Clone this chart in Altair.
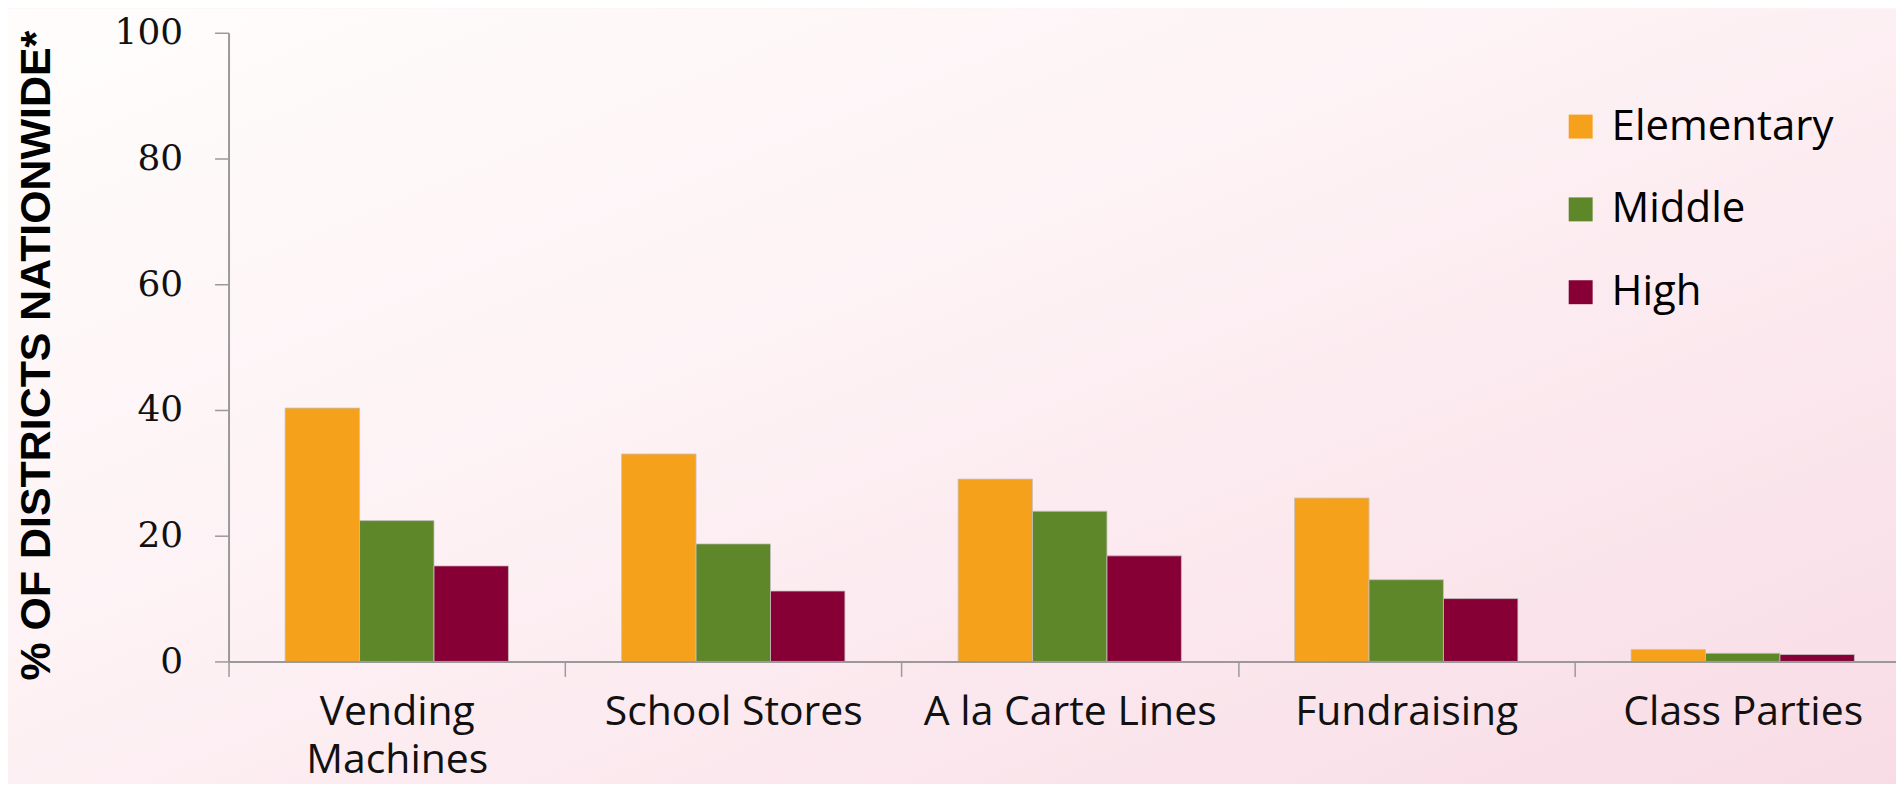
import altair as alt
import pandas as pd

categories = ["Vending Machines", "School Stores", "A la Carte Lines", "Fundraising", "Class Parties"]
levels = ["Elementary", "Middle", "High"]
elementary = [40.3, 33.0, 29.0, 26.0, 1.9]
middle = [22.4, 18.7, 23.9, 13.0, 1.3]
high = [15.2, 11.2, 16.8, 10.0, 1.1]
level_colors = ["#F5A11B", "#5E872A", "#860035"]
y_ticks = [0, 20, 40, 60, 80, 100]

rows = []
for i, c in enumerate(categories):
    for lvl, vals in zip(levels, [elementary, middle, high]):
        rows.append({"category": c, "level": lvl, "value": vals[i]})
df = pd.DataFrame(rows)

W, H = 1671, 630
PL, PT = 221, 24

bg = alt.Chart(pd.DataFrame({"k": [0]})).mark_rect(
    color={
        "gradient": "linear",
        "x1": 0, "y1": 0, "x2": 1, "y2": 1,
        "stops": [
            {"offset": 0, "color": "#fffdfc"},
            {"offset": 0.45, "color": "#fdf1f4"},
            {"offset": 1, "color": "#f8dbe5"},
        ],
    }
).encode(
    x=alt.value(-PL), x2=alt.value(W + 20),
    y=alt.value(-PT), y2=alt.value(H + 140),
)

bars = alt.Chart(df).mark_bar(stroke="#c8c0c2", strokeWidth=0.8).encode(
    x=alt.X(
        "category:N", sort=categories,
        scale=alt.Scale(paddingInner=0, paddingOuter=0, range=[0, 1686]),
        axis=alt.Axis(
            title=None, labelAngle=0, tickBand="extent", zindex=1,
            labelFont="Open Sans", labelFontSize=41, labelColor="#111111",
            labelPadding=16, labelLineHeight=48, labelBaseline="top",
            tickSize=15, tickColor="#9a9a9a", tickWidth=1.5,
            domainColor="#9a9a9a", domainWidth=2, labelLimit=400,
            labelExpr="datum.label == 'Vending Machines' ? ['Vending', 'Machines'] : datum.label",
        ),
    ),
    xOffset=alt.XOffset("level:N", sort=levels, scale=alt.Scale(paddingOuter=0.76, paddingInner=0)),
    y=alt.Y(
        "value:Q",
        scale=alt.Scale(domain=[0, 100], nice=False),
        axis=alt.Axis(
            title="% OF DISTRICTS NATIONWIDE*", values=y_ticks, grid=False, zindex=1,
            labelFont="DejaVu Serif", labelFontSize=36, labelColor="#111111",
            labelPadding=32, tickSize=14, tickColor="#9a9a9a", tickWidth=1.5,
            domainColor="#9a9a9a", domainWidth=2,
            titleFont="Liberation Sans", titleFontWeight="bold", titleFontSize=43,
            titleColor="#000000", titleAngle=270, titleAlign="center",
            titleBaseline="middle", titleX=-192, titleY=323,
        ),
    ),
    color=alt.Color(
        "level:N", sort=levels,
        scale=alt.Scale(domain=levels, range=level_colors),
        legend=alt.Legend(
            title=None, orient="none", legendX=1334, legendY=73,
            symbolType="square", symbolSize=576, symbolStrokeWidth=0,
            symbolOpacity=1, labelFont="Open Sans", labelFontSize=42,
            labelColor="#000000", labelOffset=10, rowPadding=41, labelLimit=400,
        ),
    ),
)

chart = alt.layer(bg, bars).properties(
    width=W, height=H,
    autosize=alt.AutoSizeParams(type="none"),
    padding={"left": PL, "top": PT, "right": 0, "bottom": 122},
    background="#fdf3f6",
).configure_view(stroke=None)

chart.save("out.html", embed_options={"renderer": "svg", "actions": False})
